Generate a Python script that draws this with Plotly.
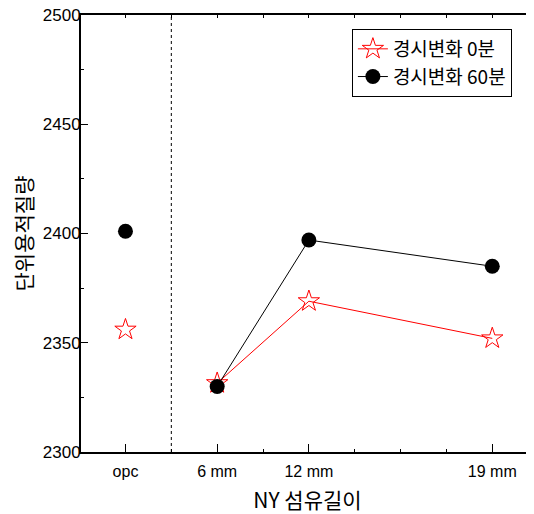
import plotly.graph_objects as go

categories = ["opc", "6 mm", "12 mm", "19 mm"]
x_pos = [1, 2, 3, 5]
series_0min = [2356, 2331.5, 2369, 2352]
series_60min = [2401, 2330, 2397, 2385]
y_ticks = [2300, 2350, 2400, 2450, 2500]
divider_x = 1.5

FONT = "Liberation Sans, Noto Sans CJK KR, sans-serif"
KFONT = "Noto Sans CJK KR, sans-serif"

def split(vals):
    # opc point is not connected to the fibre-length series
    xs = [x_pos[0], None] + x_pos[1:]
    ys = [vals[0], None] + vals[1:]
    return xs, ys

fig = go.Figure()
x0, y0 = split(series_0min)
fig.add_trace(go.Scatter(
    x=x0, y=y0, mode="lines+markers", name="경시변화 0분",
    line=dict(color="red", width=1),
    marker=dict(symbol="star-open", size=16, color="red", line=dict(color="red", width=1)),
))
x1, y1 = split(series_60min)
fig.add_trace(go.Scatter(
    x=x1, y=y1, mode="lines+markers", name="경시변화 60분",
    line=dict(color="black", width=1),
    marker=dict(symbol="circle", size=15, color="black"),
))
fig.add_trace(go.Scatter(x=[1], y=[2300], xaxis="x2", mode="markers",
                         marker=dict(opacity=0), showlegend=False, hoverinfo="skip"))

fig.add_shape(type="line", x0=divider_x, x1=divider_x, y0=0, y1=1, xref="x", yref="paper",
              line=dict(color="black", width=1, dash="dot"))

fig.update_layout(
    width=526, height=506,
    margin=dict(l=73, r=0, t=7, b=62, autoexpand=False),
    plot_bgcolor="white", paper_bgcolor="white",
    font=dict(family=FONT, size=17, color="black"),
    showlegend=True,
    legend=dict(x=0.598, y=0.968, xanchor="left", yanchor="top",
                bordercolor="black", borderwidth=1, bgcolor="white",
                font=dict(size=19, family=KFONT),
                tracegroupgap=0, itemwidth=30),
    xaxis=dict(
        automargin=False,
        range=[0.515, 5.455], tickmode="array", tickvals=x_pos, ticktext=categories,
        showline=True, linecolor="black", linewidth=2, showgrid=False, zeroline=False,
        ticks="inside", ticklen=8, tickcolor="black", tickwidth=1,
        minor=dict(dtick=0.5, tick0=0.5, ticks="inside", ticklen=3, tickcolor="black", tickwidth=1),
        title=dict(text="NY 섬유길이", font=dict(size=21, family=KFONT)),
        tickfont=dict(size=16), ticklabelstandoff=4,
    ),
    xaxis2=dict(
        automargin=False,
        overlaying="x", side="top", range=[0.515, 5.455], tickmode="linear", tick0=0.5, dtick=0.5,
        showline=True, linecolor="black", linewidth=2, showgrid=False, zeroline=False,
        ticks="inside", ticklen=3, tickcolor="black", showticklabels=False,
    ),
    yaxis=dict(
        automargin=False,
        range=[2300, 2500], tickmode="array", tickvals=y_ticks,
        showline=True, linecolor="black", linewidth=2, showgrid=False, zeroline=False,
        ticks="inside", ticklen=7, tickcolor="black", tickwidth=1,
        minor=dict(dtick=25, ticks="inside", ticklen=3, tickcolor="black", tickwidth=1),
        title=dict(text="단위용적질량", font=dict(size=21, family=KFONT)),
        tickfont=dict(size=17), ticklabeloverflow="allow", ticklabelstandoff=-5,
    ),
)

fig.write_html("out.html")
